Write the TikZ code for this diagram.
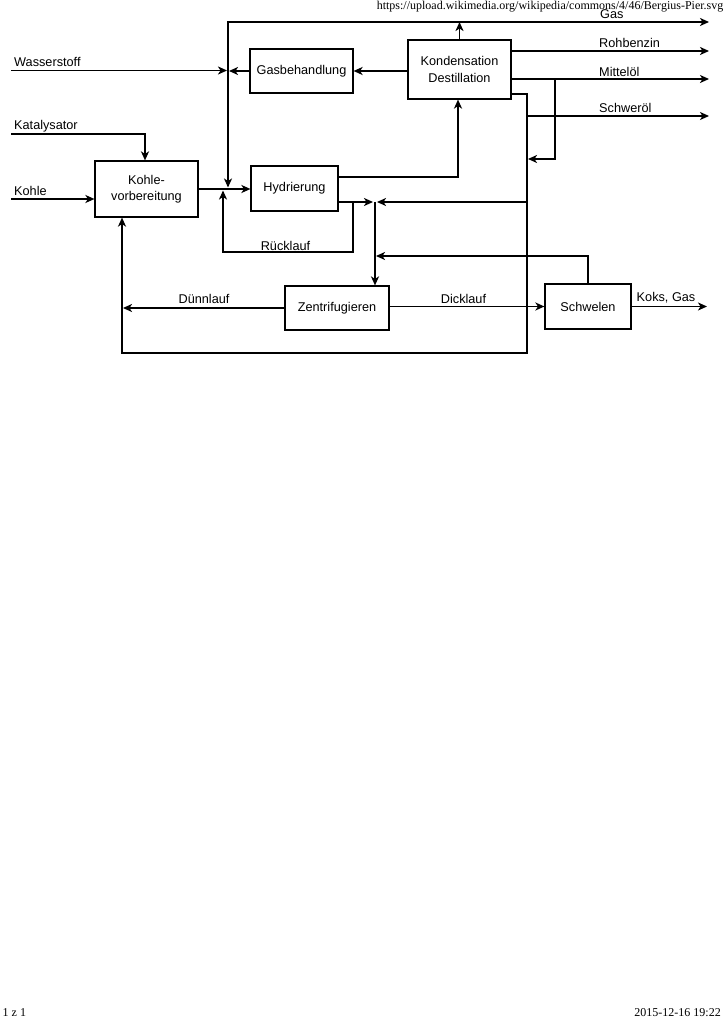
\documentclass[tikz,border=0pt]{standalone}
\usepackage{fontspec}
\setmainfont{Liberation Sans}
\newfontfamily\hdrfont{Liberation Serif}
\usetikzlibrary{arrows.meta}
\begin{document}
\begin{tikzpicture}[x=1pt,y=-1pt,
  box/.style={draw,line width=1.2pt,inner sep=0pt,align=center,font=\fontsize{12.7}{16.5}\selectfont},
  tip/.tip={Stealth[length=9pt,width=8pt,inset=2.5pt]},
  flow/.style={line width=1.7pt,-tip},
  flowboth/.style={line width=1.7pt,tip-tip},
  lbl/.style={inner sep=0pt,font=\fontsize{12.7}{15}\selectfont},
  hdr/.style={inner sep=0pt,font=\hdrfont\fontsize{12}{14}\selectfont}]
\useasboundingbox (0,0) rectangle (724,1024);
\fill[white] (0,0) rectangle (724,1024);

% header / footer
\node[hdr,anchor=base east] (url) at (723.5,10) {https://upload.wikimedia.org/wikipedia/commons/4/46/Bergius-Pier.svg};
\node[hdr,anchor=base west] (pg) at (2.5,1016.5) {1 z 1};
\node[hdr,anchor=base east] (dt) at (721,1016.5) {2015-12-16 19:22};

% boxes
\node[box,minimum width=103pt,minimum height=44pt] (gasb) at (301.5,71) {Gasbehandlung};
\node[box,minimum width=103pt,minimum height=59pt] (kond) at (459.5,69.5) {Kondensation\\Destillation};
\node[box,minimum width=103pt,minimum height=56pt] (kv) at (146.5,189) {Kohle-\\vorbereitung};
\node[box,minimum width=87pt,minimum height=45pt] (hyd) at (294.5,188.5) {Hydrierung};
\node[box,minimum width=104pt,minimum height=44pt] (zent) at (337,308) {Zentrifugieren};
\node[box,minimum width=86pt,minimum height=45pt] (schw) at (588,306.5) {Schwelen};

% coordinates
\coordinate (wIn) at (11,70.5);
\coordinate (wTip) at (227,70.5);
\coordinate (gTip) at (229,71);
\coordinate (gasOut) at (709,22);
\coordinate (jDown) at (228,187.5);
\coordinate (jUp) at (223,190.5);
\coordinate (rohOut) at (709,51);
\coordinate (mitOut) at (709,79);
\coordinate (schOut) at (709,116);
\coordinate (mitBr) at (555,79);
\coordinate (mitTip) at (528,159);
\coordinate (kondLow) at (527,94);
\coordinate (bottomR) at (527,353);
\coordinate (bottomL) at (122,353);
\coordinate (schStart) at (527,116);
\coordinate (retR) at (527,202);
\coordinate (retTip) at (377,202);
\coordinate (hydTip) at (373,202);
\coordinate (jZ) at (375,202);
\coordinate (hydUp) at (458,177);
\coordinate (rTop) at (353,202);
\coordinate (rBot) at (353,252);
\coordinate (kIn) at (11,134);
\coordinate (kCorner) at (145,134);
\coordinate (kohIn) at (11,199);
\coordinate (schwRet) at (376,256);
\coordinate (duennTip) at (123,308);
\coordinate (koksOut) at (707,306.5);

% connectors
\draw[flow] (wIn) -- (wTip);
\draw[flow] (gasb.west) -- (gTip);
\draw[flow] (kond.west |- gasb.west) -- (gasb.east);
\draw[flowboth] (jDown) |- (gasOut);
\draw[flow] (kond.north) -- (kond.north |- gasOut);
\draw[flow] (kond.east |- rohOut) -- (rohOut);
\draw[flow] (kond.east |- mitOut) -- (mitOut);
\draw[flow] (mitBr) |- (mitTip);
\draw[flow] (kond.east |- kondLow) -| (bottomR) -- (bottomL) -- (bottomL |- kv.south);
\draw[flow] (schStart) -- (schOut);
\draw[flow] (retR) -- (retTip);
\draw[flow] (kIn) -- (kCorner) -- (kCorner |- kv.north);
\draw[flow] (kohIn) -- (kv.west |- kohIn);
\draw[flow] (kv.east) -- (kv.east -| hyd.west);
\draw[flow] (hyd.east |- hydUp) -- (hydUp) -- (hydUp |- kond.south);
\draw[flow] (hyd.east |- hydTip) -- (hydTip);
\draw[flow] (rTop) -- (rBot) -| (jUp);
\draw[flow] (jZ) -- (jZ |- zent.north);
\draw[flow] (schw.north) |- (schwRet);
\draw[flow] (zent.west) -- (duennTip);
\draw[flow] (zent.east |- schw.west) -- (schw.west);
\draw[flow] (schw.east) -- (koksOut);

% labels
\node[lbl,anchor=base west] (lGas) at (600,18.5) {Gas};
\node[lbl,anchor=base west] (lRoh) at (599,47.3) {Rohbenzin};
\node[lbl,anchor=base west] (lMit) at (599,76.2) {Mittelöl};
\node[lbl,anchor=base west] (lSch) at (599,112.8) {Schweröl};
\node[lbl,anchor=base west] (lWas) at (14,66.2) {Wasserstoff};
\node[lbl,anchor=base west] (lKat) at (14,130) {Katalysator};
\node[lbl,anchor=base west] (lKoh) at (14,195.2) {Kohle};
\node[lbl,anchor=base] (lRue) at (285.5,250) {Rücklauf};
\node[lbl,anchor=base] (lDue) at (204,303.5) {Dünnlauf};
\node[lbl,anchor=base] (lDic) at (463.5,303.5) {Dicklauf};
\node[lbl,anchor=base] (lKok) at (666,301.5) {Koks, Gas};
\end{tikzpicture}
\end{document}
